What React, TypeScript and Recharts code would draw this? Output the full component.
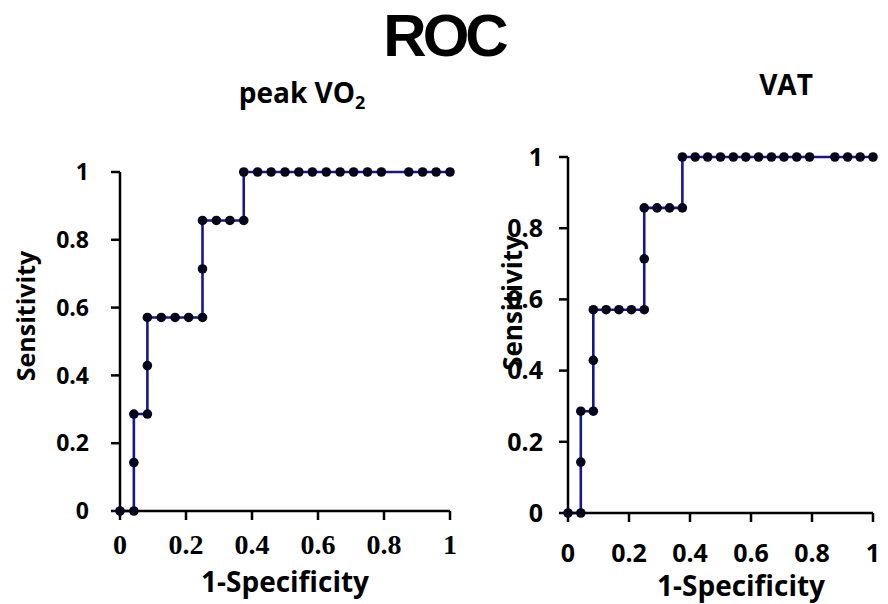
import React from "react";
import { LineChart, Line, XAxis, YAxis } from "recharts";

// 1-Specificity (false positive rate) and Sensitivity
const peakFpr = [0, 0.042, 0.042, 0.042, 0.083, 0.083, 0.083, 0.125, 0.167, 0.208, 0.25, 0.25, 0.25, 0.292, 0.333, 0.375, 0.375, 0.417, 0.458, 0.5, 0.542, 0.583, 0.625, 0.667, 0.708, 0.75, 0.792, 0.875, 0.917, 0.958, 1];
const peakTpr = [0, 0, 0.143, 0.286, 0.286, 0.429, 0.571, 0.571, 0.571, 0.571, 0.571, 0.714, 0.857, 0.857, 0.857, 0.857, 1, 1, 1, 1, 1, 1, 1, 1, 1, 1, 1, 1, 1, 1, 1];
const vatFpr = [0, 0.042, 0.042, 0.042, 0.083, 0.083, 0.083, 0.125, 0.167, 0.208, 0.25, 0.25, 0.25, 0.292, 0.333, 0.375, 0.375, 0.417, 0.458, 0.5, 0.542, 0.583, 0.625, 0.667, 0.708, 0.75, 0.792, 0.875, 0.917, 0.958, 1];
const vatTpr = [0, 0, 0.143, 0.286, 0.286, 0.429, 0.571, 0.571, 0.571, 0.571, 0.571, 0.714, 0.857, 0.857, 0.857, 0.857, 1, 1, 1, 1, 1, 1, 1, 1, 1, 1, 1, 1, 1, 1, 1];
const axisTicks = [0, 0.2, 0.4, 0.6, 0.8, 1];

const peakData = peakFpr.map((x, i) => ({ x, y: peakTpr[i] }));
const vatData = vatFpr.map((x, i) => ({ x, y: vatTpr[i] }));

const LINE = "#16168f";
const DOT = "#05051c";
const SANS = "'Open Sans', sans-serif";
const SERIF = "'Liberation Serif', 'Times New Roman', serif";

const Dot = (props: any) => {
  const { cx, cy, index } = props;
  if (cx == null || cy == null) return null;
  return <circle key={index} cx={cx} cy={cy} r={4.8} fill={DOT} />;
};

const axisLine = { stroke: "#000", strokeWidth: 2.5 };

export default function App() {
  return (
    <div style={{ position: "fixed", left: 0, top: 0, width: 888, height: 604, background: "#fff" }}>
      <div style={{ position: "absolute", left: 0, top: 0 }}>
        <LineChart width={888} height={604} data={peakData} margin={{ top: 172, right: 438, bottom: 63, left: 60 }}>
          <XAxis
            type="number"
            dataKey="x"
            domain={[0, 1]}
            ticks={axisTicks}
            height={30}
            tickSize={9}
            tickMargin={14}
            axisLine={axisLine}
            tickLine={axisLine}
            tick={{ fill: "#000", fontSize: 28, fontFamily: SERIF, fontWeight: 700 }}
            interval={0}
          />
          <YAxis
            type="number"
            domain={[0, 1]}
            ticks={axisTicks}
            width={60}
            tickSize={9}
            tickMargin={22}
            axisLine={axisLine}
            tickLine={axisLine}
            tick={{ fill: "#000", fontSize: 23, fontFamily: SANS, fontWeight: 700 }}
            interval={0}
          />
          <Line type="linear" dataKey="y" stroke={LINE} strokeWidth={2.6} dot={Dot} isAnimationActive={false} />
        </LineChart>
      </div>
      <div style={{ position: "absolute", left: 0, top: 0 }}>
        <LineChart width={888} height={604} data={vatData} margin={{ top: 157, right: 15, bottom: 61, left: 508 }}>
          <XAxis
            type="number"
            dataKey="x"
            domain={[0, 1]}
            ticks={axisTicks}
            height={30}
            tickSize={9}
            tickMargin={22}
            axisLine={axisLine}
            tickLine={axisLine}
            tick={{ fill: "#000", fontSize: 25, fontFamily: SANS, fontWeight: 700 }}
            interval={0}
          />
          <YAxis
            type="number"
            domain={[0, 1]}
            ticks={axisTicks}
            width={60}
            tickSize={9}
            tickMargin={16}
            axisLine={axisLine}
            tickLine={axisLine}
            tick={{ fill: "#000", fontSize: 25, fontFamily: SANS, fontWeight: 700 }}
            interval={0}
          />
          <Line type="linear" dataKey="y" stroke={LINE} strokeWidth={2.6} dot={Dot} isAnimationActive={false} />
        </LineChart>
      </div>
      <svg width={888} height={604} style={{ position: "absolute", left: 0, top: 0, pointerEvents: "none" }}>
        <text x={444} y={56} textAnchor="middle" fontFamily="'Liberation Sans', Arial, sans-serif" fontWeight={700} fontSize={60} letterSpacing={-4} fill="#000">ROC</text>
        <text x={302} y={103} textAnchor="middle" fontFamily={SANS} fontWeight={700} fontSize={28} fill="#000">
          peak VO<tspan fontSize={18} dy={6}>2</tspan>
        </text>
        <text x={786} y={95} textAnchor="middle" fontFamily={SANS} fontWeight={700} fontSize={28} fill="#000">VAT</text>
        <text transform="translate(35,316) rotate(-90)" textAnchor="middle" fontFamily={SANS} fontWeight={700} fontSize={25} fill="#000">Sensitivity</text>
        <text transform="translate(522,303) rotate(-90)" textAnchor="middle" fontFamily={SANS} fontWeight={700} fontSize={26} fill="#000">Sensitivity</text>
        <text x={285} y={592} textAnchor="middle" fontFamily={SANS} fontWeight={700} fontSize={28} fill="#000">1-Specificity</text>
        <text x={741} y={596} textAnchor="middle" fontFamily={SANS} fontWeight={700} fontSize={28} fill="#000">1-Specificity</text>
      </svg>
    </div>
  );
}
